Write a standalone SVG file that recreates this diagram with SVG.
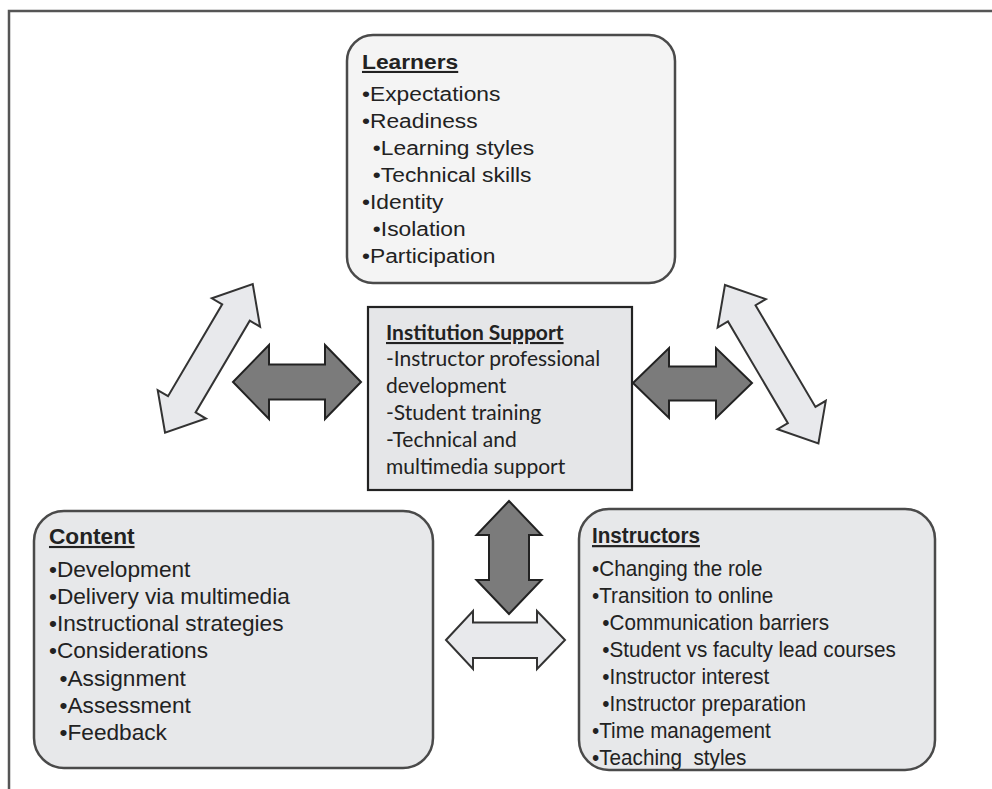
<svg xmlns="http://www.w3.org/2000/svg" width="992" height="789" viewBox="0 0 992 789">
<style>
.frame{fill:none;stroke:#555;stroke-width:2.5}
.rbox{stroke:#4a4a4a;stroke-width:2.5}
.t{font-family:"Liberation Sans",Arial,sans-serif;fill:#222}
.h{font-weight:bold;text-decoration:underline}
.it{font-family:Lato,"Liberation Sans",sans-serif;font-size:21px;fill:#222}
.dark{fill:#7b7b7b;stroke:#222;stroke-width:2}
.light{fill:#e8e9ec;stroke:#333;stroke-width:2}
</style>
<rect width="992" height="789" fill="#fff"/>
<path class="frame" d="M9,789 V11 H992"/>

<g id="connectors">
<polygon class="light" transform="translate(208.9,358.4) rotate(-59.47)" points="-86.3,0 -53.3,-28 -53.3,-16 53.3,-16 53.3,-28 86.3,0 53.3,28 53.3,16 -53.3,16 -53.3,28"/>
<polygon class="light" transform="translate(771.7,364.2) rotate(59.49)" points="-92,0 -59,-28 -59,-16 59,-16 59,-28 92,0 59,28 59,16 -59,16 -59,28"/>
<polygon class="dark" points="233,382 269,345 269,364.5 325,364.5 325,345 361,382 325,419 325,399.5 269,399.5 269,419"/>
<polygon class="dark" points="633,383 669,348 669,366.5 716,366.5 716,348 752,383 716,418 716,400.5 669,400.5 669,418"/>
<polygon class="dark" points="509,501 541.5,535 529,535 529,580 541.5,580 509,614 476.5,580 489,580 489,535 476.5,535"/>
<polygon class="light" points="446,640 473,611 473,622.5 537,622.5 537,611 565,640 537,669 537,658 473,658 473,669"/>
</g>

<g id="learners">
<rect class="rbox" x="347" y="35" width="328" height="248" rx="26" fill="#f4f4f4"/>
<g transform="translate(362,0) scale(1.085,1) translate(-362,0)" font-size="21">
<text class="t h" x="362" y="69">Learners</text>
<text class="t" x="362" y="101">•Expectations</text>
<text class="t" x="362" y="128">•Readiness</text>
<text class="t" x="372" y="155">•Learning styles</text>
<text class="t" x="372" y="182">•Technical skills</text>
<text class="t" x="362" y="209">•Identity</text>
<text class="t" x="372" y="236">•Isolation</text>
<text class="t" x="362" y="263">•Participation</text>
</g>
</g>

<g id="institution">
<rect x="368" y="307" width="264" height="183" fill="#e5e6e8" stroke="#222" stroke-width="2.2"/>
<text class="it" x="386" y="340" style="font-weight:bold;text-decoration:underline">Institution Support</text>
<text class="it" x="386" y="366">-Instructor professional</text>
<text class="it" x="386" y="393">development</text>
<text class="it" x="386" y="420">-Student training</text>
<text class="it" x="386" y="447">-Technical and</text>
<text class="it" x="386" y="474">multimedia support</text>
</g>

<g id="content">
<rect class="rbox" x="34" y="511" width="399" height="257" rx="30" fill="#e7e8ea"/>
<g transform="translate(49,0) scale(1.054,1) translate(-49,0)" font-size="21.5">
<text class="t h" x="49" y="544">Content</text>
<text class="t" x="49" y="577">•Development</text>
<text class="t" x="49" y="604">•Delivery via multimedia</text>
<text class="t" x="49" y="631">•Instructional strategies</text>
<text class="t" x="49" y="658">•Considerations</text>
<text class="t" x="59" y="686">•Assignment</text>
<text class="t" x="59" y="713">•Assessment</text>
<text class="t" x="59" y="740">•Feedback</text>
</g>
</g>

<g id="instructors">
<rect class="rbox" x="579" y="509" width="356" height="261" rx="30" fill="#e7e8ea"/>
<g transform="translate(592,0) scale(0.94,1) translate(-592,0)" font-size="22">
<text class="t h" x="592" y="543">Instructors</text>
<text class="t" x="592" y="576">•Changing the role</text>
<text class="t" x="592" y="603">•Transition to online</text>
<text class="t" x="603" y="630">•Communication barriers</text>
<text class="t" x="603" y="657">•Student vs faculty lead courses</text>
<text class="t" x="603" y="684">•Instructor interest</text>
<text class="t" x="603" y="711">•Instructor preparation</text>
<text class="t" x="592" y="738">•Time management</text>
<text class="t" x="592" y="765" xml:space="preserve">•Teaching  styles</text>
</g>
</g>
</svg>
